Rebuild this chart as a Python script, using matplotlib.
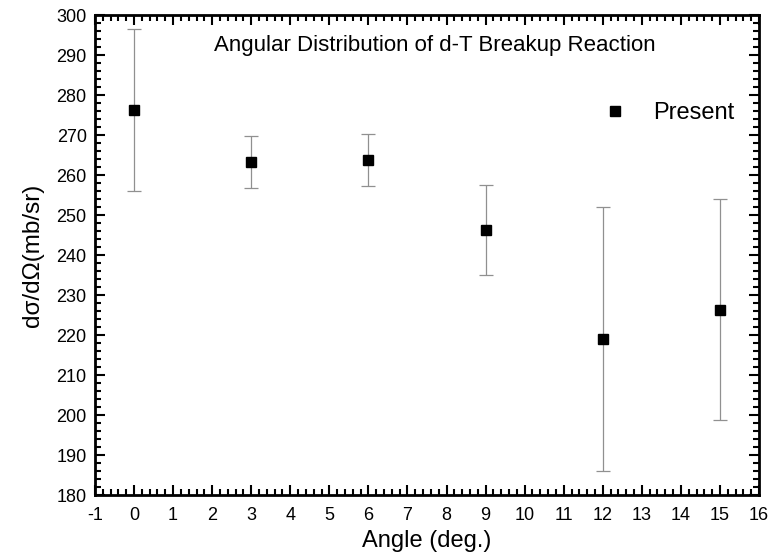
import matplotlib
matplotlib.use("Agg")
import matplotlib.pyplot as plt
from matplotlib.ticker import MultipleLocator

plt.rcParams['font.family'] = ['Liberation Sans', 'DejaVu Sans']
plt.rcParams['axes.unicode_minus'] = False

angle = [0, 3, 6, 9, 12, 15]
xsec = [276.3, 263.3, 263.7, 246.3, 219.0, 226.3]
err = [20.2, 6.5, 6.5, 11.2, 33.0, 27.6]

fig = plt.figure(figsize=(7.74, 5.57), dpi=100)
ax = fig.add_axes([95 / 774, 1 - 495 / 557, (759 - 95) / 774, (495 - 15) / 557])

ax.errorbar(angle, xsec, yerr=err, fmt='none', ecolor='#909090', elinewidth=0.9,
            capsize=5, capthick=0.9)
ax.plot(angle, xsec, 's', color='black', markersize=7, label='Present')

ax.set_xlim(-1, 16)
ax.set_ylim(180, 300)
ax.xaxis.set_major_locator(MultipleLocator(1))
ax.xaxis.set_minor_locator(MultipleLocator(0.2))
ax.yaxis.set_major_locator(MultipleLocator(10))
ax.yaxis.set_minor_locator(MultipleLocator(2))
ax.tick_params(which='both', direction='in', top=True, right=True, width=1.5)
ax.tick_params(which='major', length=7, labelsize=13)
ax.tick_params(axis='x', which='major', pad=9)
ax.tick_params(axis='y', which='major', pad=6)
ax.tick_params(which='minor', length=4)
for s in ax.spines.values():
    s.set_linewidth(2)

ax.set_xlabel('Angle (deg.)', fontsize=17, labelpad=4)
ax.set_ylabel('dσ/dΩ(mb/sr)', fontsize=17.5, labelpad=9)
ax.text(0.512, 0.9375, 'Angular Distribution of d-T Breakup Reaction', transform=ax.transAxes,
        ha='center', va='center', fontsize=16)

ax.legend(loc='upper right', bbox_to_anchor=(0.995, 0.862), frameon=False, fontsize=17,
          handletextpad=0.6, markerscale=0.95)

fig.savefig('out.png', dpi=100)
